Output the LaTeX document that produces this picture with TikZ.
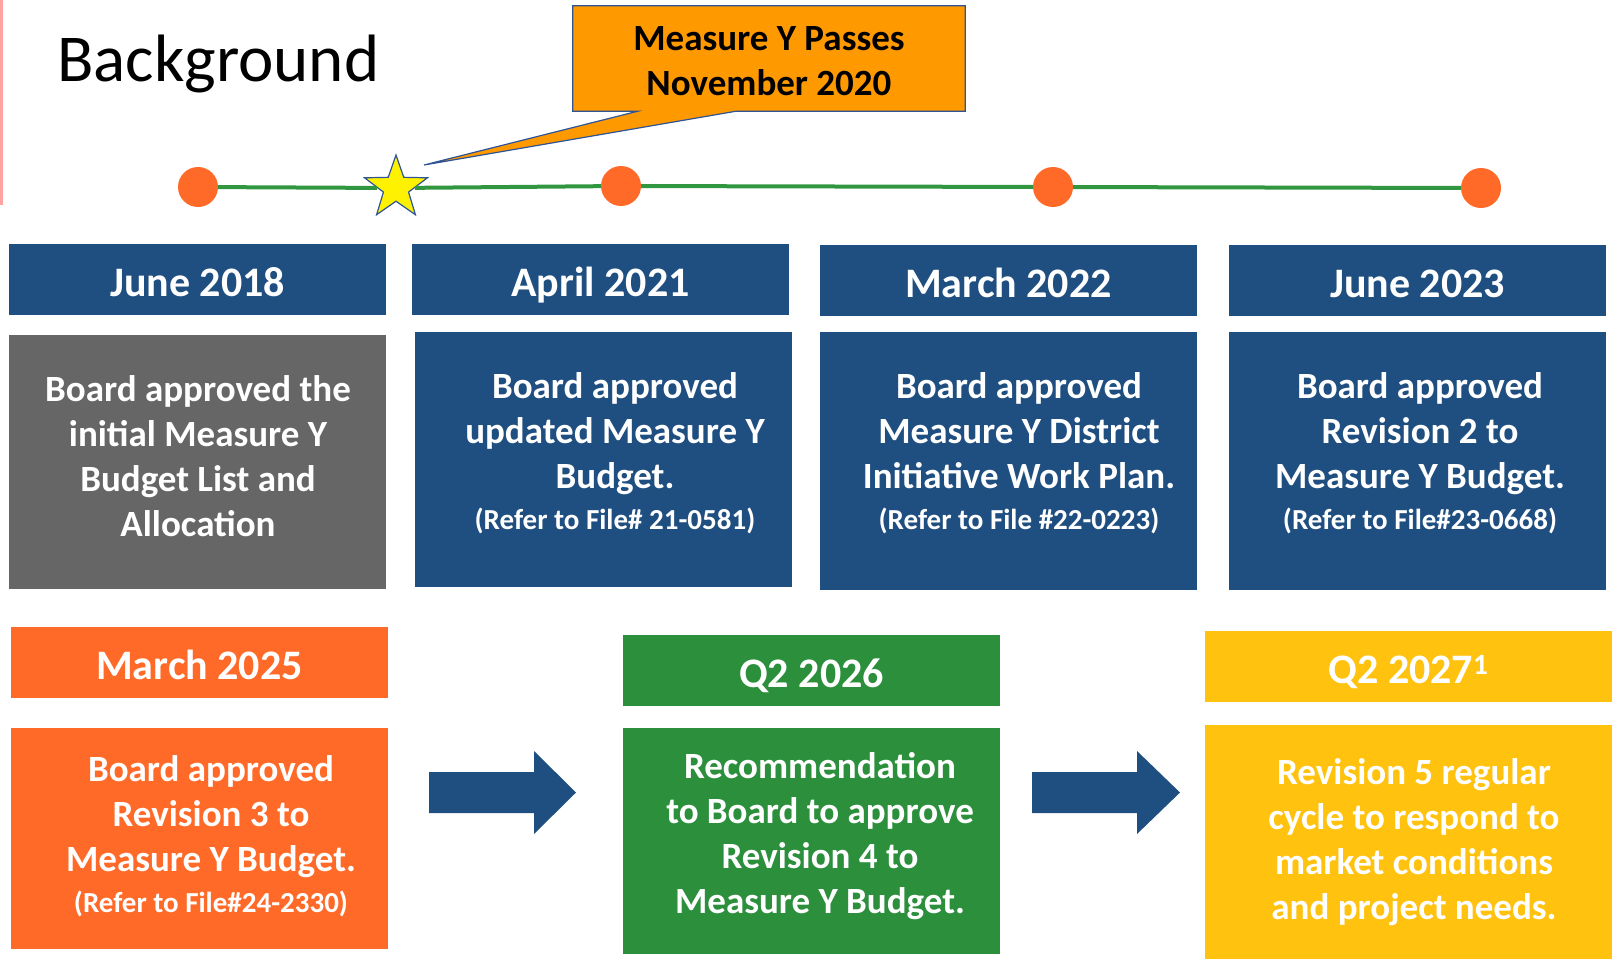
\documentclass[tikz,border=0pt]{standalone}
\usepackage{fontspec}
\setmainfont{Carlito}
\usetikzlibrary{shapes.geometric}

\definecolor{navy}{RGB}{31,78,128}
\definecolor{slate}{RGB}{102,102,102}
\definecolor{dotorange}{RGB}{255,106,40}
\definecolor{lineg}{RGB}{48,150,64}
\definecolor{leafgreen}{RGB}{43,143,60}
\definecolor{gold}{RGB}{255,194,14}
\definecolor{callorange}{RGB}{255,153,0}
\definecolor{callblue}{RGB}{47,84,150}

\tikzset{
  datebox/.style={fill=#1, text=white, font=\fontsize{42}{50}\selectfont\bfseries,
    minimum width=377pt, minimum height=71pt, inner sep=0pt,
    text height=36pt, text depth=2.5pt},
  infobox/.style={fill=#1, minimum width=377pt, inner sep=0pt},
  infotext/.style={text=white, font=\fontsize{37}{45}\selectfont\bfseries,
    align=center, inner sep=0pt},
  dot/.style={circle, fill=dotorange, minimum size=40pt, inner sep=0pt},
}
\newcommand{\filenote}[1]{{\fontsize{29}{36}\selectfont #1}}

\begin{document}
\begin{tikzpicture}[x=1pt,y=-1pt]
\useasboundingbox (0,0) rectangle (1614,959);

% faint mark at the left edge
\draw[red!60,line width=3pt,opacity=.6] (1.5,0) -- (1.5,205);

\node[anchor=base west,inner sep=0pt,font=\fontsize{67}{70}\selectfont] (title) at (57,81) {Background};

% timeline
\node[dot] (d1) at (198,187) {};
\node[star,star points=5,star point ratio=2.5,minimum size=66pt,inner sep=0pt,
  fill=yellow,draw=callblue,line width=1.2pt] (s) at (396,188) {};
\node[dot] (d2) at (621,186) {};
\node[dot] (d3) at (1053,187) {};
\node[dot] (d4) at (1481,188) {};
\draw[lineg,line width=4pt] (d1) -- (s) -- (d2) -- (d3) -- (d4);

% callout
\coordinate (tip) at (424,165);
\path (769,58.5) node[minimum width=392pt,minimum height=105pt,inner sep=0pt] (callout) {};
\draw[fill=callorange,draw=callblue,line width=1.2pt]
  (callout.north west) -- (callout.north east) -- (callout.south east)
  -- ([xshift=-229pt]callout.south east) -- (tip)
  -- ([xshift=65pt]callout.south west) -- (callout.south west) -- cycle;
\node[align=center,inner sep=0pt,font=\fontsize{37}{45}\selectfont\bfseries] (calltext) at (769,61)
  {Measure Y Passes\\November 2020};

% top row
\node[datebox=navy] (h1) at (197.5,279.5) {June 2018};
\node[datebox=navy] (h2) at (600.5,279.5) {April 2021};
\node[datebox=navy] (h3) at (1008.5,280.5) {March 2022};
\node[datebox=navy] (h4) at (1417.5,280.5) {June 2023};

\node[infobox=slate,minimum height=254pt] (b1) at (197,462) {};
\node[infobox=navy,minimum height=255pt] (b2) at (603,459.5) {};
\node[infobox=navy,minimum height=258pt] (b3) at (1008.5,461) {};
\node[infobox=navy,minimum height=258pt] (b4) at (1417.5,461) {};

\node[infotext] (t1) at (198,456) {Board approved the\\initial Measure Y\\Budget List and\\Allocation};
\node[infotext] (t2) at (615,453) {Board approved\\updated Measure Y\\Budget.\\[-4pt]\filenote{(Refer to File\# 21-0581)}};
\node[infotext] (t3) at (1019,453) {Board approved\\Measure Y District\\Initiative Work Plan.\\[-4pt]\filenote{(Refer to File \#22-0223)}};
\node[infotext] (t4) at (1420,453) {Board approved\\Revision 2 to\\Measure Y Budget.\\[-4pt]\filenote{(Refer to File\#23-0668)}};

% bottom row
\node[datebox=dotorange] (h5) at (199.5,662.5) {March 2025};
\node[datebox=leafgreen] (h6) at (811.5,670.5) {Q2 2026};
\node[datebox=gold,minimum width=407pt] (h7) at (1408.5,666.5) {Q2 2027\textsuperscript{1}};

\node[infobox=dotorange,minimum height=221pt] (b5) at (199.5,838.5) {};
\node[infobox=leafgreen,minimum height=226pt] (b6) at (811.5,841) {};
\node[infobox=gold,minimum width=407pt,minimum height=234pt] (b7) at (1408.5,842) {};

\node[infotext] (t5) at (211,836) {Board approved\\Revision 3 to\\Measure Y Budget.\\[-4pt]\filenote{(Refer to File\#24-2330)}};
\node[infotext] (t6) at (820,836) {Recommendation\\to Board to approve\\Revision 4 to\\Measure Y Budget.};
\node[infotext] (t7) at (1414,842) {Revision 5 regular\\cycle to respond to\\market conditions\\and project needs.};

% block arrows
\fill[navy] (429,772) -- (534,772) -- (534,751) -- (576,792.5) -- (534,834) -- (534,813) -- (429,813) -- cycle;
\fill[navy] (1032,772) -- (1137,772) -- (1137,751) -- (1180,792.5) -- (1137,834) -- (1137,813) -- (1032,813) -- cycle;

\end{tikzpicture}
\end{document}
